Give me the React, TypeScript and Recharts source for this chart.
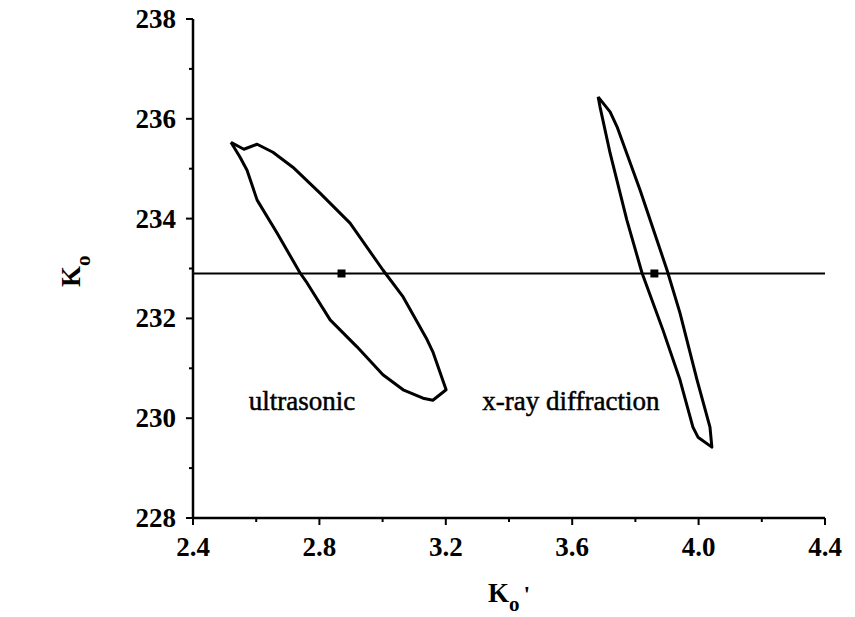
import { ScatterChart, Scatter, XAxis, YAxis, ReferenceLine, ReferenceDot } from "recharts";

// axis ticks (major ones carry a label)
const xTicks = [2.4, 2.6, 2.8, 3.0, 3.2, 3.4, 3.6, 3.8, 4.0, 4.2, 4.4];
const xMajor = [2.4, 2.8, 3.2, 3.6, 4.0, 4.4];
const yTicks = [228, 229, 230, 231, 232, 233, 234, 235, 236, 237, 238];
const yMajor = [228, 230, 232, 234, 236, 238];

// confidence contours as [K0', K0]
const ultrasonic: [number, number][] = [
  [2.52, 235.53], [2.561, 235.39], [2.603, 235.49], [2.653, 235.33], [2.716, 235.03],
  [2.802, 234.51], [2.897, 233.91], [3.001, 232.97], [3.065, 232.43], [3.141, 231.57],
  [3.159, 231.33], [3.201, 230.57], [3.159, 230.36], [3.128, 230.4], [3.065, 230.57],
  [3.001, 230.87], [2.919, 231.43], [2.834, 231.97], [2.761, 232.71], [2.739, 232.91],
  [2.666, 233.71], [2.603, 234.37], [2.571, 234.97], [2.549, 235.23], [2.52, 235.53],
];
const xray: [number, number][] = [
  [3.682, 236.44], [3.72, 236.14], [3.742, 235.84], [3.815, 234.57], [3.9, 232.97],
  [3.941, 232.11], [3.995, 230.77], [4.036, 229.82], [4.042, 229.42], [3.998, 229.62],
  [3.982, 229.82], [3.941, 230.77], [3.887, 231.77], [3.821, 232.91], [3.773, 233.97],
  [3.72, 235.31], [3.688, 236.24], [3.682, 236.44],
];
const centers: [number, number][] = [[2.87, 232.9], [3.86, 232.9]];
const k0Line = 232.9;

const toPts = (a: [number, number][]) => a.map(([x, y]) => ({ x, y }));
const serif = "'Liberation Serif', 'Times New Roman', serif";
const isIn = (arr: number[], v: number) => arr.some((m) => Math.abs(m - v) < 1e-6);

function XTick({ x, y, payload }: any) {
  const v = payload.value;
  const major = isIn(xMajor, v);
  return (
    <g>
      <line x1={x} x2={x} y1={y} y2={y + (major ? 7 : 4)} stroke="#000" strokeWidth={2} />
      {major && (
        <text x={x} y={y + 38} textAnchor="middle" fontFamily={serif} fontSize={27} fontWeight="bold" fill="#000">
          {v.toFixed(1)}
        </text>
      )}
    </g>
  );
}

function YTick({ x, y, payload }: any) {
  const v = payload.value;
  const major = isIn(yMajor, v);
  return (
    <g>
      <line x1={x} x2={x - (major ? 7 : 4)} y1={y} y2={y} stroke="#000" strokeWidth={2} />
      {major && (
        <text x={x - 17} y={y + 9} textAnchor="end" fontFamily={serif} fontSize={27} fontWeight="bold" fill="#000">
          {v}
        </text>
      )}
    </g>
  );
}

const noDot = () => <g />;
const noteStyle = { fontFamily: serif, fontSize: 27, fill: "#000", stroke: "#000", strokeWidth: 0.5 };

export default function App() {
  return (
    <div style={{ position: "absolute", left: 0, top: 0, background: "#fff" }}>
      <ScatterChart width={855} height={617} margin={{ top: 19, right: 30, bottom: 0, left: 0 }}>
        <XAxis
          type="number"
          dataKey="x"
          domain={[2.4, 4.4]}
          ticks={xTicks}
          interval={0}
          allowDataOverflow
          height={99}
          tickSize={0}
          tickMargin={0}
          tick={<XTick />}
          axisLine={{ stroke: "#000", strokeWidth: 2.5 }}
          label={{
            content: () => (
              <text x={488} y={602} fontFamily={serif} fontSize={27} fontWeight="bold" fill="#000">
                K<tspan dy={9} fontSize={21}>o</tspan>
                <tspan dx={4} dy={-9} fontSize={24}>'</tspan>
              </text>
            ),
          }}
        />
        <YAxis
          type="number"
          dataKey="y"
          domain={[228, 238]}
          ticks={yTicks}
          interval={0}
          allowDataOverflow
          width={193}
          tickSize={0}
          tickMargin={0}
          tick={<YTick />}
          axisLine={{ stroke: "#000", strokeWidth: 2.5 }}
          label={{
            content: () => (
              <text transform="translate(80,287) rotate(-90)" fontFamily={serif} fontSize={27} fontWeight="bold" fill="#000">
                K<tspan dy={10} fontSize={21}>o</tspan>
              </text>
            ),
          }}
        />
        <ReferenceLine y={k0Line} stroke="#000" strokeWidth={2} />
        <Scatter
          data={toPts(ultrasonic)}
          line={{ stroke: "#000", strokeWidth: 3, strokeLinejoin: "round" }}
          lineType="joint"
          shape={noDot}
          isAnimationActive={false}
        />
        <Scatter
          data={toPts(xray)}
          line={{ stroke: "#000", strokeWidth: 3, strokeLinejoin: "round" }}
          lineType="joint"
          shape={noDot}
          isAnimationActive={false}
        />
        <Scatter data={toPts(centers)} shape="square" fill="#000" isAnimationActive={false} />
        <ReferenceDot
          x={2.745}
          y={230.36}
          r={0}
          stroke="none"
          label={{ value: "ultrasonic", position: "center", ...noteStyle }}
        />
        <ReferenceDot
          x={3.596}
          y={230.36}
          r={0}
          stroke="none"
          label={{ value: "x-ray diffraction", position: "center", ...noteStyle }}
        />
      </ScatterChart>
    </div>
  );
}
